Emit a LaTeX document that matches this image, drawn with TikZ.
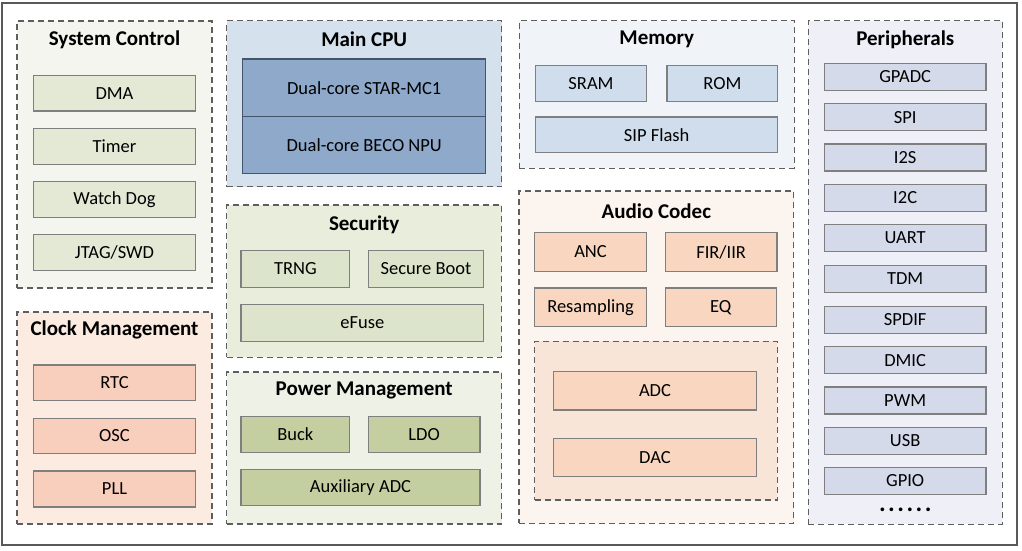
\documentclass[tikz,border=0pt]{standalone}
\usepackage{fontspec}
\setmainfont{Carlito}
\definecolor{sysbg}{HTML}{F4F5EF}
\definecolor{sysit}{HTML}{E3E9D5}
\definecolor{cpubg}{HTML}{D5E1EC}
\definecolor{cpuit}{HTML}{8EA9C9}
\definecolor{cpubd}{HTML}{44546A}
\definecolor{membg}{HTML}{F0F4F8}
\definecolor{memit}{HTML}{CFDDEC}
\definecolor{perbg}{HTML}{EFEFF8}
\definecolor{perit}{HTML}{D5DAEB}
\definecolor{clkbg}{HTML}{FBEBE1}
\definecolor{clkit}{HTML}{F8CFBD}
\definecolor{secbg}{HTML}{E8EDDC}
\definecolor{secit}{HTML}{DCE5CB}
\definecolor{pwrbg}{HTML}{EEF1E6}
\definecolor{pwrit}{HTML}{C3CFA0}
\definecolor{audbg}{HTML}{FCF4EE}
\definecolor{audit}{HTML}{F8D6BF}
\definecolor{audin}{HTML}{F8E5D8}
\definecolor{grpbd}{HTML}{5E5E5E}
\definecolor{itbd}{HTML}{7F7F7F}
\definecolor{frame}{HTML}{595959}
\newcommand{\mkbox}[7]{\node[#6, minimum width={(#4-#2)*1pt}, minimum height={(#5-#3)*1pt}] (#1) at ({(#2+#4)/2},{(#3+#5)/2}) {#7};}
\begin{document}
\begin{tikzpicture}[x=1pt,y=-1pt,
  grp/.style={draw=grpbd, line width=1.4pt, dash pattern=on 6pt off 4pt, inner sep=0pt, outer sep=0pt},
  itm/.style={draw=itbd, line width=1.2pt, inner sep=0pt, outer sep=0pt, font=\fontsize{18.5}{21}\selectfont},
  ttl/.style={inner sep=0pt, font=\fontsize{21}{24}\selectfont\bfseries}]
\useasboundingbox (0,0) rectangle (1022,550);
\mkbox{outer}{2}{2.5}{1017}{545}{draw=frame, line width=2pt, inner sep=0pt}{}
% System Control
\mkbox{sc}{17}{21}{212}{288}{grp, fill=sysbg}{}
\node[ttl] (tsc) at (114.5,39.5) {System Control};
\mkbox{dma}{33.3}{75.3}{195.7}{111}{itm, fill=sysit}{DMA}
\mkbox{timer}{33.3}{128.7}{195.7}{164.3}{itm, fill=sysit}{Timer}
\mkbox{wdg}{33.3}{181.7}{195.7}{217.3}{itm, fill=sysit}{Watch Dog}
\mkbox{jtag}{33.3}{234.3}{195.7}{270.3}{itm, fill=sysit}{JTAG/SWD}
% Clock Management
\mkbox{clk}{17}{312}{212}{524}{grp, fill=clkbg}{}
\node[ttl] (tclk) at (114.5,329.5) {Clock Management};
\mkbox{rtc}{33.3}{365}{195.7}{400.3}{itm, fill=clkit}{RTC}
\mkbox{osc}{33.3}{418.3}{195.7}{453.7}{itm, fill=clkit}{OSC}
\mkbox{pll}{33.3}{471}{195.7}{507}{itm, fill=clkit}{PLL}
% Main CPU
\mkbox{cpu}{226.7}{20.7}{501.7}{186.7}{grp, fill=cpubg}{}
\node[ttl] (tcpu) at (364.2,39.5) {Main CPU};
\mkbox{star}{242.7}{59}{485.7}{116.3}{itm, draw=cpubd, fill=cpuit}{Dual-core STAR-MC1}
\mkbox{npu}{242.7}{116.3}{485.7}{173.3}{itm, draw=cpubd, fill=cpuit}{Dual-core BECO NPU}
% Security
\mkbox{sec}{226.7}{205}{501.7}{357.3}{grp, fill=secbg}{}
\node[ttl] (tsec) at (364.2,224.5) {Security};
\mkbox{trng}{241}{250.3}{349.7}{287.3}{itm, fill=secit}{TRNG}
\mkbox{sboot}{368.3}{250.3}{483.7}{287.3}{itm, fill=secit}{Secure Boot}
\mkbox{efuse}{241}{304.3}{483.7}{341.3}{itm, fill=secit}{eFuse}
% Power Management
\mkbox{pwr}{226.7}{372}{501.7}{524}{grp, fill=pwrbg}{}
\node[ttl] (tpwr) at (364.2,390) {Power Management};
\mkbox{buck}{241}{416.3}{349.7}{452.7}{itm, fill=pwrit}{Buck}
\mkbox{ldo}{368.3}{416.3}{480}{452.7}{itm, fill=pwrit}{LDO}
\mkbox{aux}{241}{469.3}{480}{505.7}{itm, fill=pwrit}{Auxiliary ADC}
% Memory
\mkbox{mem}{519.3}{20.7}{794.3}{168.3}{grp, fill=membg}{}
\node[ttl] (tmem) at (656.8,39.5) {Memory};
\mkbox{sram}{535.7}{65.7}{646.3}{101.3}{itm, fill=memit}{SRAM}
\mkbox{rom}{667}{65.7}{777.7}{101.3}{itm, fill=memit}{ROM}
\mkbox{sip}{535.7}{117}{777.7}{152.7}{itm, fill=memit}{SIP Flash}
% Audio Codec
\mkbox{aud}{519}{191}{793.7}{523.3}{grp, fill=audbg}{}
\node[ttl] (taud) at (656.3,211) {Audio Codec};
\mkbox{anc}{534.7}{232.7}{646.3}{271.3}{itm, fill=audit}{ANC}
\mkbox{fir}{665.3}{232.7}{777}{271.3}{itm, fill=audit}{FIR/IIR}
\mkbox{resamp}{534.7}{288}{646.3}{326.7}{itm, fill=audit}{Resampling}
\mkbox{eq}{665.3}{288}{776.3}{326.7}{itm, fill=audit}{EQ}
\mkbox{conv}{534.7}{341.3}{777.3}{500}{grp, fill=audin}{}
\mkbox{adc}{553.3}{371.3}{756.7}{410}{itm, fill=audit}{ADC}
\mkbox{dac}{553.3}{438.3}{756.7}{476.7}{itm, fill=audit}{DAC}
% Peripherals
\mkbox{per}{808.3}{20.7}{1002.3}{524.3}{grp, fill=perbg}{}
\node[ttl] (tper) at (905.3,39.5) {Peripherals};
\mkbox{gpadc}{824.3}{63.3}{986}{90.3}{itm, fill=perit}{GPADC}
\mkbox{spi}{824.3}{103.7}{986}{130.7}{itm, fill=perit}{SPI}
\mkbox{itwos}{824.3}{144}{986}{171}{itm, fill=perit}{I2S}
\mkbox{itwoc}{824.3}{184.3}{986}{211.3}{itm, fill=perit}{I2C}
\mkbox{uart}{824.3}{224.6}{986}{251.6}{itm, fill=perit}{UART}
\mkbox{tdm}{824.3}{265.5}{986}{292.5}{itm, fill=perit}{TDM}
\mkbox{spdif}{824.3}{306.3}{986}{333.3}{itm, fill=perit}{SPDIF}
\mkbox{dmic}{824.3}{346.6}{986}{373.6}{itm, fill=perit}{DMIC}
\mkbox{pwm}{824.3}{386.9}{986}{413.9}{itm, fill=perit}{PWM}
\mkbox{usb}{824.3}{427.2}{986}{454.2}{itm, fill=perit}{USB}
\mkbox{gpio}{824.3}{467.5}{986}{494.5}{itm, fill=perit}{GPIO}
\node[inner sep=0pt, text height=4pt, text depth=0pt, anchor=base, font=\fontsize{25}{28}\selectfont\bfseries] (dots) at (905.3,511) {.\kern2.5pt.\kern2.5pt.\kern2.5pt.\kern2.5pt.\kern2.5pt.};
\end{tikzpicture}
\end{document}
